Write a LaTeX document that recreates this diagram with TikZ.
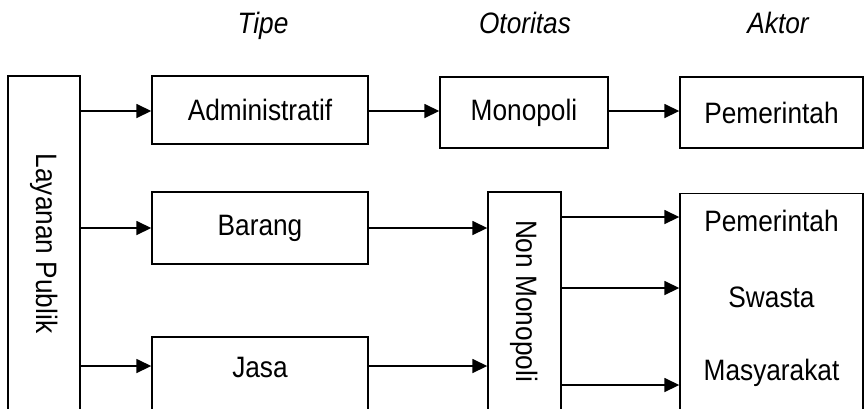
\documentclass[tikz,border=0pt]{standalone}
\usepackage{fontspec}
\setmainfont{Liberation Sans}[FakeStretch=0.89]
\usetikzlibrary{arrows.meta}

\begin{document}
\begin{tikzpicture}[x=1pt,y=-1pt,
	every node/.style={font=\fontsize{29.5}{31}\selectfont},
	box/.style={draw, line width=1.4pt, inner sep=0pt},
	head/.style={font=\fontsize{29.5}{31}\selectfont\itshape, anchor=base},
	arr/.style={line width=1.6pt, -{Triangle[length=15pt,width=14pt]}}]
\clip (0,0) rectangle (864,408);
% column heads
\node [head] (tipe) at (263,33) {Tipe};
\node [head] (otoritas) at (525,33) {Otoritas};
\node [head] (aktorhead) at (778,33) {Aktor};
% boxes
\node [box, minimum width=72pt, minimum height=335pt] (layanan) at (44,243.5) {\rotatebox{-90}{Layanan Publik}};
\node [box, minimum width=216pt, minimum height=68pt] (admin) at (260,110) {Administratif};
\node [box, minimum width=216pt, minimum height=72pt] (barang) at (260,228) {Barang};
\node [box, minimum width=216pt, text height=40pt, text depth=43pt] (jasa) at (260,378.5) {Jasa};
\node [box, minimum width=168pt, minimum height=71pt] (mono) at (524,112.5) {Monopoli};
\node [box, minimum width=73pt, minimum height=218pt] (nonmono) at (524.5,301) {\rotatebox{-90}{Non Monopoli}};
\node [box, minimum width=183pt, minimum height=71pt] (pem) at (771.5,112.5) {Pemerintah};
\node [box, minimum width=183pt, minimum height=230pt, anchor=north] (aktor) at (771.5,193) {};
\node [anchor=base] (pem2) at (771.5,231) {Pemerintah};
\node [anchor=base] (swasta) at (771.5,307) {Swasta};
\node [anchor=base] (masy) at (771.5,380) {Masyarakat};
% arrows
\draw [arr] (layanan.east |- 0,111) -- (admin.west |- 0,111);
\draw [arr] (layanan.east |- barang.west) -- (barang.west);
\draw [arr] (layanan.east |- 0,366) -- (jasa.west |- 0,366);
\draw [arr] (admin.east |- 0,111) -- (mono.west |- 0,111);
\draw [arr] (mono.east |- 0,111) -- (pem.west |- 0,111);
\draw [arr] (barang.east) -- (barang.east -| nonmono.west);
\draw [arr] (jasa.east |- 0,366) -- (nonmono.west |- 0,366);
\foreach \y in {217,288,385}
	\draw [arr] (nonmono.east |- 0,\y) -- (aktor.west |- 0,\y);
\end{tikzpicture}
\end{document}
